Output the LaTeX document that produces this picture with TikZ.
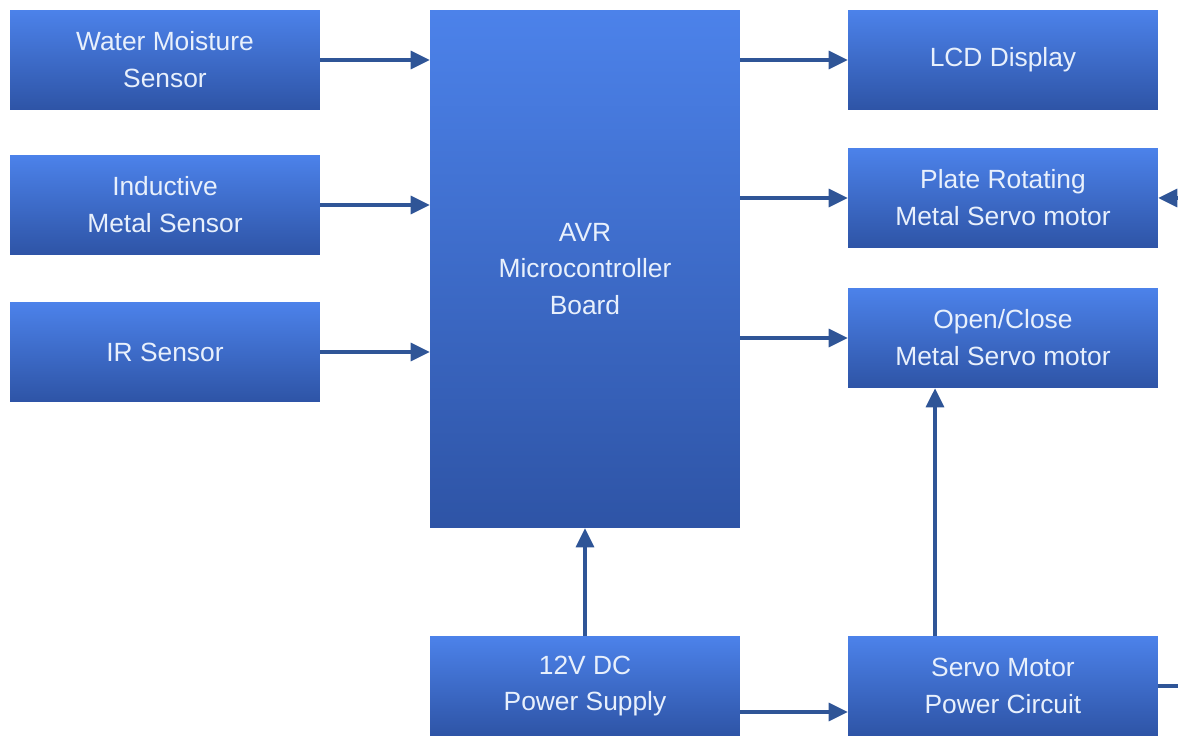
\documentclass[tikz,border=0pt]{standalone}
\usepackage{fontspec}
\setmainfont{Liberation Sans}
\usetikzlibrary{arrows.meta}
\definecolor{boxtop}{RGB}{76,130,234}
\definecolor{boxbot}{RGB}{46,84,166}
\definecolor{wire}{RGB}{47,85,151}
\definecolor{boxtext}{RGB}{232,240,252}
\tikzset{
  block/.style={rectangle, inner sep=0pt, top color=boxtop, bottom color=boxbot,
    text=boxtext, align=center, font=\fontsize{15}{21}\selectfont,
    minimum width=6.2cm, minimum height=2cm},
  wirearrow/.style={-{Triangle[length=0.38cm,width=0.36cm]}, wire, line width=1.8pt},
  wireline/.style={wire, line width=1.8pt}
}
\begin{document}
\begin{tikzpicture}[x=0.02cm, y=-0.02cm]
  \useasboundingbox (0,0) rectangle (1178,736);
  % Capteurs
  \node[block] (water) at (165,60) {Water Moisture\\Sensor};
  \node[block] (induct) at (165,205) {Inductive\\Metal Sensor};
  \node[block] (ir) at (165,352) {IR Sensor};
  % Carte
  \node[block, minimum height=10.36cm] (avr) at (585,269) {AVR\\Microcontroller\\Board};
  % Sorties
  \node[block] (lcd) at (1003,60) {LCD Display};
  \node[block] (plate) at (1003,198) {Plate Rotating\\Metal Servo motor};
  \node[block] (openclose) at (1003,338) {Open/Close\\Metal Servo motor};
  % Alimentation
  \node[block] (supply) at (585,686) {12V DC\\Power Supply};
  \node[block] (servo) at (1003,686) {Servo Motor\\Power Circuit};
  \coordinate (edge) at (1178,0);
  \coordinate (up) at (935,0);
  \coordinate (feed) at (0,712);
  % Liaisons
  \draw[wirearrow] (water) -- (water -| avr.west);
  \draw[wirearrow] (induct) -- (induct -| avr.west);
  \draw[wirearrow] (ir) -- (ir -| avr.west);
  \draw[wirearrow] (lcd -| avr.east) -- (lcd);
  \draw[wirearrow] (plate -| avr.east) -- (plate);
  \draw[wirearrow] (openclose -| avr.east) -- (openclose);
  \draw[wirearrow] (supply) -- (avr);
  \draw[wirearrow] (supply.east |- feed) -- (servo.west |- feed);
  \draw[wirearrow] (servo.north -| up) -- (openclose.south -| up);
  \draw[wireline] (servo.east) -- (servo.east -| edge);
  \draw[wirearrow] (plate.east -| edge) -- (plate.east);
\end{tikzpicture}
\end{document}
